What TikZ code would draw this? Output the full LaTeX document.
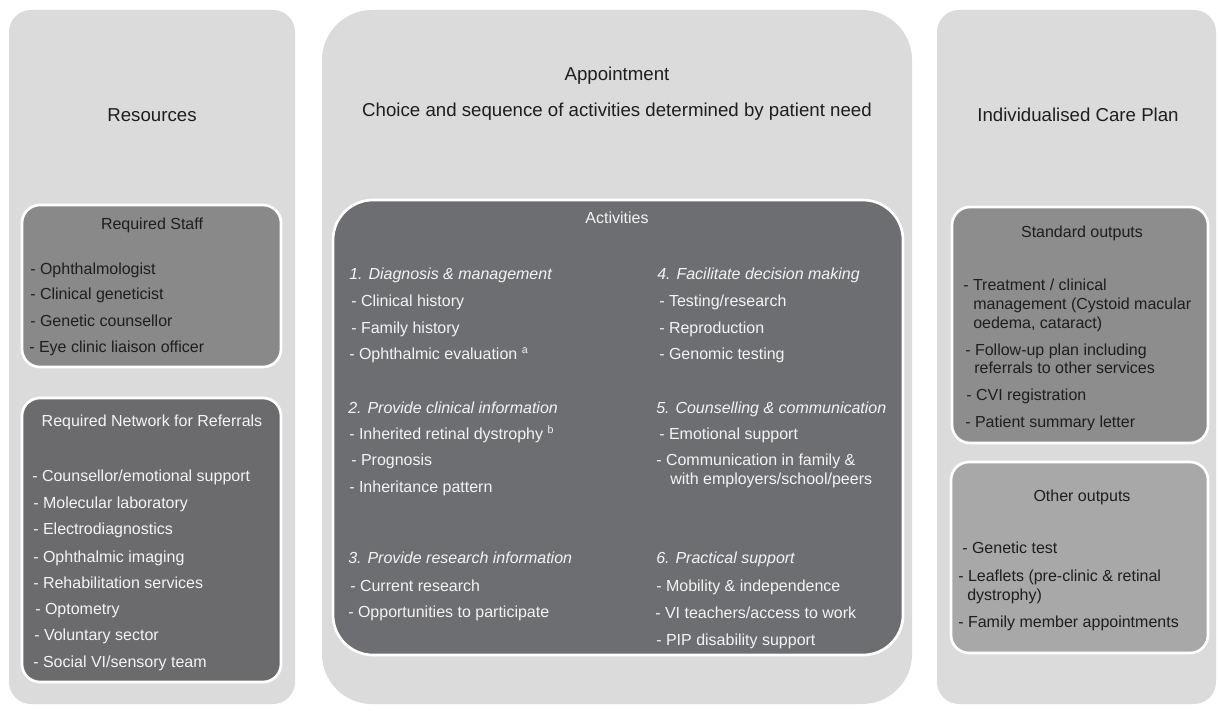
\documentclass[tikz,border=0pt]{standalone}
\usepackage{fontspec}
\setmainfont{Liberation Sans}
\definecolor{panelgray}{HTML}{DBDBDB}
\definecolor{staffgray}{HTML}{898989}
\definecolor{netgray}{HTML}{6B6B6D}
\definecolor{actgray}{HTML}{6D6E71}
\definecolor{stdgray}{HTML}{8D8D8D}
\definecolor{othergray}{HTML}{A8A8A8}
\definecolor{darktext}{HTML}{1E1E1E}
\definecolor{lighttext}{HTML}{F4F4F4}
\begin{document}
\begin{tikzpicture}[x=0.75pt,y=-0.75pt,
  panel/.style={fill=panelgray,rounded corners=16.5pt},
  bigpanel/.style={fill=panelgray,rounded corners=37.5pt},
  inbox/.style={draw=white,line width=2pt,rounded corners=13.5pt},
  actbox/.style={draw=white,line width=2pt,rounded corners=30pt,fill=actgray},
  heading/.style={anchor=base,inner sep=0pt,text=darktext,font=\fontsize{14}{16}\selectfont},
  boxtitle/.style={anchor=base,inner sep=0pt,font=\fontsize{12}{14}\selectfont},
  item/.style={anchor=base west,inner sep=0pt,font=\fontsize{12}{14}\selectfont},
  sect/.style={item,font=\fontsize{12}{14}\selectfont\itshape},
  dk/.style={text=darktext},
  lt/.style={text=lighttext}]
\useasboundingbox (0,0) rectangle (1219,710);
\fill[white] (0,0) rectangle (1219,710);

% ---------- Resources ----------
\fill[panel] (9,10) rectangle (295,704);
\node[heading] (res) at (152,121) {Resources};

\filldraw[inbox,fill=staffgray] (22,205) rectangle (281,367);
\node[boxtitle,dk] (staff) at (152,229) {Required Staff};
\node[item,dk] (s1) at (30,274) {- Ophthalmologist};
\node[item,dk] (s2) at (30,299) {- Clinical geneticist};
\node[item,dk] (s3) at (30,326) {- Genetic counsellor};
\node[item,dk] (s4) at (29,352) {- Eye clinic liaison officer};

\filldraw[inbox,fill=netgray] (22,398) rectangle (281,682);
\node[boxtitle,lt] (net) at (152,426) {Required Network for Referrals};
\node[item,lt] (n1) at (32,481) {- Counsellor/emotional support};
\node[item,lt] (n2) at (33,508) {- Molecular laboratory};
\node[item,lt] (n3) at (33,534) {- Electrodiagnostics};
\node[item,lt] (n4) at (33,562) {- Ophthalmic imaging};
\node[item,lt] (n5) at (33,588) {- Rehabilitation services};
\node[item,lt] (n6) at (35,614) {- Optometry};
\node[item,lt] (n7) at (34,640) {- Voluntary sector};
\node[item,lt] (n8) at (33,667) {- Social VI/sensory team};

% ---------- Appointment ----------
\fill[bigpanel] (322,10) rectangle (912,704);
\node[heading] (app) at (617,80) {Appointment};
\node[heading] (choice) at (617,116) {Choice and sequence of activities determined by patient need};

\filldraw[actbox] (333,200) rectangle (903,655);
\node[boxtitle,lt] (act) at (617,223) {Activities};

\node[sect,lt] (h1) at (349,279) {1. Diagnosis \& management};
\node[item,lt] (a11) at (351,306) {- Clinical history};
\node[item,lt] (a12) at (351,333) {- Family history};
\node[item,lt] (a13) at (349,359) {- Ophthalmic evaluation \textsuperscript{a}};

\node[sect,lt] (h2) at (348,413) {2. Provide clinical information};
\node[item,lt] (a21) at (349,439) {- Inherited retinal dystrophy \textsuperscript{b}};
\node[item,lt] (a22) at (351,465) {- Prognosis};
\node[item,lt] (a23) at (349,492) {- Inheritance pattern};

\node[sect,lt] (h3) at (348,563) {3. Provide research information};
\node[item,lt] (a31) at (350,591) {- Current research};
\node[item,lt] (a32) at (348,617) {- Opportunities to participate};

\node[sect,lt] (h4) at (657,279) {4. Facilitate decision making};
\node[item,lt] (a41) at (659,306) {- Testing/research};
\node[item,lt] (a42) at (659,333) {- Reproduction};
\node[item,lt] (a43) at (659,359) {- Genomic testing};

\node[sect,lt] (h5) at (656,413) {5. Counselling \& communication};
\node[item,lt] (a51) at (659,439) {- Emotional support};
\node[item,lt] (a52) at (656,465) {- Communication in family \&};
\node[item,lt] (a52b) at (670,484) {with employers/school/peers};

\node[sect,lt] (h6) at (656,563) {6. Practical support};
\node[item,lt] (a61) at (656,591) {- Mobility \& independence};
\node[item,lt] (a62) at (655,618) {- VI teachers/access to work};
\node[item,lt] (a63) at (656,645) {- PIP disability support};

% ---------- Individualised Care Plan ----------
\fill[panel] (937,10) rectangle (1216,704);
\node[heading] (icp) at (1078,121) {Individualised Care Plan};

\filldraw[inbox,fill=stdgray] (952,207) rectangle (1208,443);
\node[boxtitle,dk] (std) at (1082,237) {Standard outputs};
\node[item,dk] (o1) at (963,290) {- Treatment / clinical};
\node[item,dk] (o1b) at (973,309) {management (Cystoid macular};
\node[item,dk] (o1c) at (973,328) {oedema, cataract)};
\node[item,dk] (o2) at (965,355) {- Follow-up plan including};
\node[item,dk] (o2b) at (974,373) {referrals to other services};
\node[item,dk] (o3) at (966,400) {- CVI registration};
\node[item,dk] (o4) at (965,427) {- Patient summary letter};

\filldraw[inbox,fill=othergray] (951,462) rectangle (1208,653);
\node[boxtitle,dk] (oth) at (1082,501) {Other outputs};
\node[item,dk] (p1) at (962,553) {- Genetic test};
\node[item,dk] (p2) at (958,581) {- Leaflets (pre-clinic \& retinal};
\node[item,dk] (p2b) at (967,600) {dystrophy)};
\node[item,dk] (p3) at (958,627) {- Family member appointments};
\end{tikzpicture}
\end{document}
